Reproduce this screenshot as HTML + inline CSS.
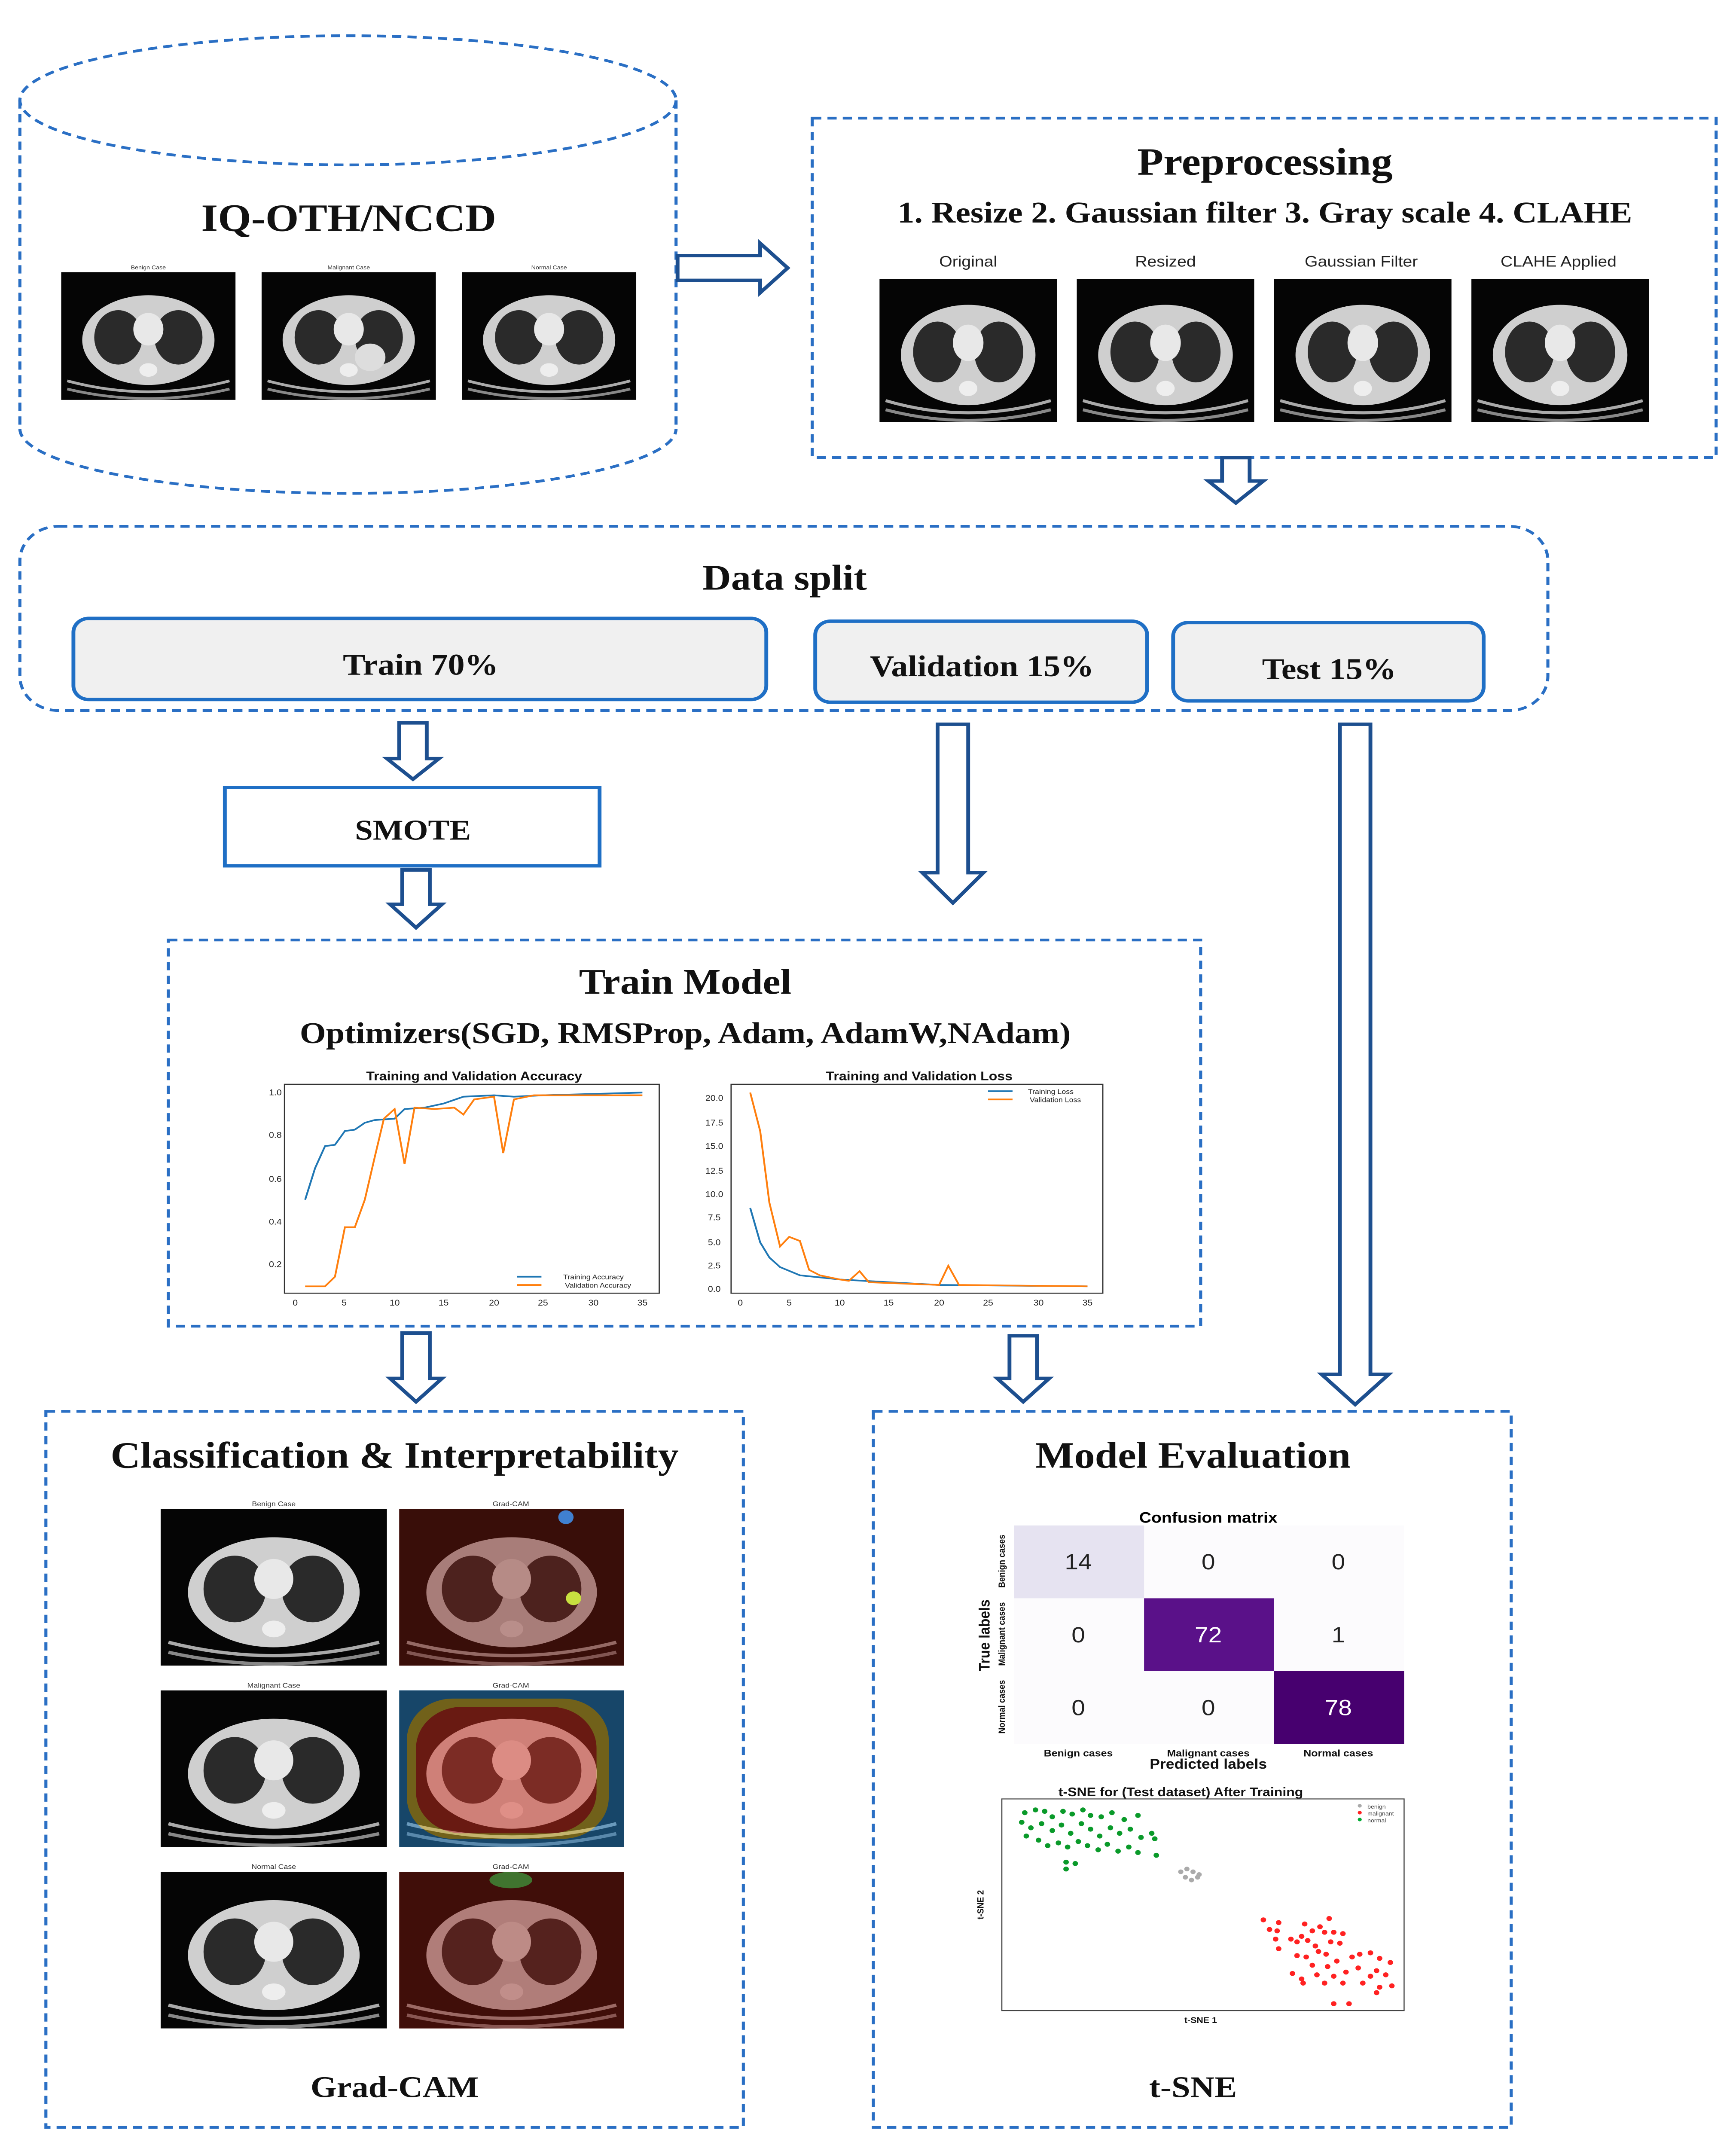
<!DOCTYPE html>
<html><head><meta charset="utf-8"><style>html,body{margin:0;padding:0;background:#fff;width:100vw;height:100vh;overflow:hidden}svg{display:block;position:fixed;left:0;top:0;width:100vw;height:100vh}</style></head>
<body>
<svg viewBox="0 0 1135 1563" preserveAspectRatio="none" xmlns="http://www.w3.org/2000/svg">
<defs>
<symbol id="ct" viewBox="0 0 116 94" preserveAspectRatio="none">
<rect width="116" height="94" fill="#050505"/>
<ellipse cx="58" cy="50" rx="44" ry="33" fill="#cfcfcf"/>
<ellipse cx="38" cy="48" rx="16" ry="20" fill="#2a2a2a"/>
<ellipse cx="78" cy="48" rx="16" ry="20" fill="#2a2a2a"/>
<ellipse cx="58" cy="42" rx="10" ry="12" fill="#e8e8e8"/>
<ellipse cx="58" cy="72" rx="6" ry="5" fill="#eee"/>
<path d="M4 80 Q58 96 112 80" stroke="#aaa" stroke-width="2" fill="none"/>
<path d="M4 86 Q58 100 112 86" stroke="#888" stroke-width="2" fill="none"/>
</symbol>
</defs>
<g fill="none" stroke="#2a6fc4" stroke-width="2" stroke-dasharray="6,4">
<path d="M13 73 L13 312 M442 73 L442 312"/>
<ellipse cx="227.5" cy="73" rx="214.5" ry="47"/>
<path d="M13 312 A214.5 47 0 0 0 442 312"/>
<rect x="531" y="86" width="591" height="247"/>
<rect x="13" y="383" width="999" height="134" rx="25"/>
<rect x="110" y="684" width="675" height="281"/>
<rect x="30" y="1027" width="456" height="521"/>
<rect x="571" y="1027" width="417" height="521"/>
</g>
<g font-family="Liberation Serif, serif" font-weight="bold" fill="#111" text-anchor="middle">
<text x="228" y="168" font-size="28">IQ-OTH/NCCD</text>
<text x="827" y="127" font-size="28">Preprocessing</text>
<text x="827" y="162" font-size="22">1. Resize 2. Gaussian filter 3. Gray scale 4. CLAHE</text>
<text x="513" y="429" font-size="26">Data split</text>
<text x="448" y="723" font-size="26">Train Model</text>
<text x="448" y="759" font-size="22">Optimizers(SGD, RMSProp, Adam, AdamW,NAdam)</text>
<text x="258" y="1068" font-size="27">Classification &amp; Interpretability</text>
<text x="780" y="1068" font-size="27">Model Evaluation</text>
<text x="258" y="1526" font-size="22">Grad-CAM</text>
<text x="780" y="1526" font-size="22">t-SNE</text>
</g>
<g font-family="Liberation Sans, sans-serif" font-size="4" fill="#333" text-anchor="middle">
<text x="97" y="196">Benign Case</text><text x="228" y="196">Malignant Case</text><text x="359" y="196">Normal Case</text>
</g>
<use href="#ct" x="40" y="198" width="114" height="93"/>
<use href="#ct" x="171" y="198" width="114" height="93"/>
<use href="#ct" x="302" y="198" width="114" height="93"/>
<circle cx="242" cy="260" r="10" fill="#ddd"/>
<g font-family="Liberation Sans, sans-serif" font-size="11" fill="#222" text-anchor="middle">
<text x="633" y="194">Original</text><text x="762" y="194">Resized</text><text x="890" y="194">Gaussian Filter</text><text x="1019" y="194">CLAHE Applied</text>
</g>
<use href="#ct" x="575" y="203" width="116" height="104"/>
<use href="#ct" x="704" y="203" width="116" height="104"/>
<use href="#ct" x="833" y="203" width="116" height="104"/>
<use href="#ct" x="962" y="203" width="116" height="104"/>
<g stroke="#1f6fc5" stroke-width="2.5">
<rect x="48" y="450" width="453" height="59" rx="10" fill="#f0f0f0"/>
<rect x="533" y="452" width="217" height="59" rx="10" fill="#f0f0f0"/>
<rect x="767" y="453" width="203" height="57" rx="10" fill="#f0f0f0"/>
<rect x="147" y="573" width="245" height="57" fill="#fff"/>
</g>
<g font-family="Liberation Serif, serif" font-weight="bold" fill="#111" text-anchor="middle" font-size="22">
<text x="275" y="491">Train 70%</text><text x="642" y="492">Validation 15%</text><text x="869" y="494">Test 15%</text>
<text x="270" y="611" font-size="21">SMOTE</text>
</g>
<g fill="#fff" stroke="#1d4f8f" stroke-width="2.5" stroke-linejoin="miter">
<polygon points="443,186 497,186 497,177 515,195 497,213 497,204 443,204"/>
<polygon points="799,333 817,333 817,350 826,350 808,366 790,350 799,350"/>
<polygon points="261,526 279,526 279,552 287,552 270,567 253,552 261,552"/>
<polygon points="263,633 281,633 281,658 289,658 272,675 255,658 263,658"/>
<polygon points="613,527 633,527 633,635 643,635 623,657 603,635 613,635"/>
<polygon points="876,527 896,527 896,1000 908,1000 886,1022 864,1000 876,1000"/>
<polygon points="263,970 281,970 281,1003 289,1003 272,1020 255,1003 263,1003"/>
<polygon points="660,972 678,972 678,1003 686,1003 669,1020 652,1003 660,1003"/>
</g>
<g font-family="Liberation Sans, sans-serif" font-weight="bold" font-size="9" fill="#111" text-anchor="middle">
<text x="310" y="786">Training and Validation Accuracy</text>
<text x="601" y="786">Training and Validation Loss</text>
</g>
<rect x="186" y="789" width="245" height="152" fill="none" stroke="#333" stroke-width="0.8"/>
<rect x="478" y="789" width="243" height="152" fill="none" stroke="#333" stroke-width="0.8"/>
<g font-family="Liberation Sans, sans-serif" font-size="6" fill="#222" text-anchor="middle">
<text x="180" y="797">1.0</text><text x="180" y="828">0.8</text><text x="180" y="860">0.6</text><text x="180" y="891">0.4</text><text x="180" y="922">0.2</text>
<text x="193" y="950">0</text><text x="225" y="950">5</text><text x="258" y="950">10</text><text x="290" y="950">15</text><text x="323" y="950">20</text><text x="355" y="950">25</text><text x="388" y="950">30</text><text x="420" y="950">35</text>
<text x="467" y="801">20.0</text><text x="467" y="819">17.5</text><text x="467" y="836">15.0</text><text x="467" y="854">12.5</text><text x="467" y="871">10.0</text><text x="467" y="888">7.5</text><text x="467" y="906">5.0</text><text x="467" y="923">2.5</text><text x="467" y="940">0.0</text>
<text x="484" y="950">0</text><text x="516" y="950">5</text><text x="549" y="950">10</text><text x="581" y="950">15</text><text x="614" y="950">20</text><text x="646" y="950">25</text><text x="679" y="950">30</text><text x="711" y="950">35</text>
<text x="388" y="931" font-size="5">Training Accuracy</text><text x="391" y="937" font-size="5">Validation Accuracy</text>
<text x="687" y="796" font-size="5">Training Loss</text><text x="690" y="802" font-size="5">Validation Loss</text>
</g>
<g fill="none" stroke-width="1.2">
<polyline stroke="#1f77b4" points="199.5,873 206,850 212.5,834 219,833 225.5,823 232,822 238.5,817 245,815 258,814 264.5,807 277.5,806 290,803 303,798 323,797 336,798 355,797 420,795"/>
<polyline stroke="#ff7f0e" points="199.5,936 212.5,936 219,929 225.5,893 232,893 238.5,873 245,842 251,814 258,807 264.5,847 271,806 284,807 297,806 303,811 310,800 323,798 329,839 336,800 349,797 420,797"/>
<polyline stroke="#1f77b4" points="490.5,879 497,904 503,915 510,922 523,928 549,931 581,933 614,935 711,936"/>
<polyline stroke="#ff7f0e" points="490.5,795 497,823 503,875 510,907 516,900 523,903 529,924 536,928 549,931 555,932 562,925 568,933 614,935 620,921 627,935 711,936"/>
<line x1="338" y1="929" x2="354" y2="929" stroke="#1f77b4"/><line x1="338" y1="935" x2="354" y2="935" stroke="#ff7f0e"/>
<line x1="646" y1="794" x2="662" y2="794" stroke="#1f77b4"/><line x1="646" y1="800" x2="662" y2="800" stroke="#ff7f0e"/>
</g>
<g font-family="Liberation Sans, sans-serif" font-size="5" fill="#333" text-anchor="middle">
<text x="179" y="1096">Benign Case</text><text x="334" y="1096">Grad-CAM</text>
<text x="179" y="1228">Malignant Case</text><text x="334" y="1228">Grad-CAM</text>
<text x="179" y="1360">Normal Case</text><text x="334" y="1360">Grad-CAM</text>
</g>
<use href="#ct" x="105" y="1098" width="148" height="114"/>
<use href="#ct" x="105" y="1230" width="148" height="114"/>
<use href="#ct" x="105" y="1362" width="148" height="114"/>
<rect x="261" y="1098" width="147" height="114" fill="#7a1a10"/>
<use href="#ct" x="261" y="1098" width="147" height="114" opacity="0.55"/>
<circle cx="375" cy="1163" r="5" fill="#c8e040"/><circle cx="370" cy="1104" r="5" fill="#4080d0"/>
<rect x="261" y="1230" width="147" height="114" fill="#2a8ad0"/>
<rect x="266" y="1236" width="132" height="102" rx="30" fill="#e0c030"/>
<rect x="272" y="1242" width="118" height="92" rx="30" fill="#d03020"/>
<use href="#ct" x="261" y="1230" width="147" height="114" opacity="0.5"/>
<rect x="261" y="1362" width="147" height="114" fill="#8a1a10"/>
<use href="#ct" x="261" y="1362" width="147" height="114" opacity="0.55"/>
<ellipse cx="334" cy="1368" rx="14" ry="6" fill="#40a040" opacity="0.7"/>
<text x="790" y="1108" font-family="Liberation Sans, sans-serif" font-weight="bold" font-size="11" text-anchor="middle">Confusion matrix</text>
<rect x="663" y="1110" width="255" height="159" fill="#fcfbfd"/>
<rect x="663" y="1110" width="85" height="53" fill="#e6e3f1"/>
<rect x="748" y="1163" width="85" height="53" fill="#5a1189"/>
<rect x="833" y="1216" width="85" height="53" fill="#47006f"/>
<g font-family="Liberation Sans, sans-serif" font-size="16" text-anchor="middle" fill="#222">
<text x="705" y="1142">14</text><text x="790" y="1142">0</text><text x="875" y="1142">0</text>
<text x="705" y="1195">0</text><text x="790" y="1195" fill="#fff">72</text><text x="875" y="1195">1</text>
<text x="705" y="1248">0</text><text x="790" y="1248">0</text><text x="875" y="1248" fill="#fff">78</text>
</g>
<g font-family="Liberation Sans, sans-serif" font-weight="bold" fill="#111" text-anchor="middle">
<text x="705" y="1278" font-size="7">Benign cases</text><text x="790" y="1278" font-size="7">Malignant cases</text><text x="875" y="1278" font-size="7">Normal cases</text>
<text x="790" y="1287" font-size="10">Predicted labels</text>
<text transform="translate(647,1190) rotate(-90)" font-size="10">True labels</text>
<text transform="translate(657,1136) rotate(-90)" font-size="6">Benign cases</text>
<text transform="translate(657,1189) rotate(-90)" font-size="6">Malignant cases</text>
<text transform="translate(657,1242) rotate(-90)" font-size="6">Normal cases</text>
<text x="772" y="1307" font-size="9">t-SNE for (Test dataset) After Training</text>
<text x="785" y="1472" font-size="6">t-SNE 1</text>
<text transform="translate(643,1386) rotate(-90)" font-size="6">t-SNE 2</text>
</g>
<rect x="655" y="1309" width="263" height="154" fill="#fff" stroke="#444" stroke-width="0.7"/>
<g font-family="Liberation Sans, sans-serif" font-size="4" fill="#444">
<text x="894" y="1316">benign</text><text x="894" y="1321">malignant</text><text x="894" y="1326">normal</text>
</g>
<circle cx="889" cy="1314" r="1.3" fill="#aaa"/><circle cx="889" cy="1319" r="1.3" fill="#f22"/><circle cx="889" cy="1324" r="1.3" fill="#0a3"/>
<g fill="#0a9a2a">
<circle cx="670" cy="1319" r="1.8"/><circle cx="677" cy="1317" r="1.8"/><circle cx="683" cy="1318" r="1.8"/><circle cx="688" cy="1322" r="1.8"/><circle cx="695" cy="1318" r="1.8"/><circle cx="701" cy="1320" r="1.8"/><circle cx="708" cy="1317" r="1.8"/><circle cx="713" cy="1321" r="1.8"/><circle cx="720" cy="1322" r="1.8"/><circle cx="727" cy="1319" r="1.8"/><circle cx="735" cy="1324" r="1.8"/><circle cx="744" cy="1321" r="1.8"/>
<circle cx="668" cy="1326" r="1.8"/><circle cx="674" cy="1330" r="1.8"/><circle cx="681" cy="1327" r="1.8"/><circle cx="688" cy="1332" r="1.8"/><circle cx="694" cy="1328" r="1.8"/><circle cx="700" cy="1334" r="1.8"/><circle cx="707" cy="1327" r="1.8"/><circle cx="713" cy="1331" r="1.8"/><circle cx="719" cy="1336" r="1.8"/><circle cx="726" cy="1330" r="1.8"/><circle cx="732" cy="1334" r="1.8"/><circle cx="739" cy="1331" r="1.8"/><circle cx="746" cy="1337" r="1.8"/><circle cx="753" cy="1334" r="1.8"/><circle cx="755" cy="1338" r="1.8"/>
<circle cx="671" cy="1336" r="1.8"/><circle cx="679" cy="1339" r="1.8"/><circle cx="685" cy="1343" r="1.8"/><circle cx="692" cy="1341" r="1.8"/><circle cx="698" cy="1344" r="1.8"/><circle cx="705" cy="1340" r="1.8"/><circle cx="711" cy="1343" r="1.8"/><circle cx="718" cy="1346" r="1.8"/><circle cx="724" cy="1342" r="1.8"/><circle cx="731" cy="1347" r="1.8"/><circle cx="738" cy="1344" r="1.8"/><circle cx="744" cy="1348" r="1.8"/><circle cx="756" cy="1350" r="1.8"/>
<circle cx="697" cy="1355" r="1.8"/><circle cx="697" cy="1360" r="1.8"/><circle cx="703" cy="1356" r="1.8"/>
</g>
<g fill="#aaa"><circle cx="772" cy="1362" r="1.7"/><circle cx="776" cy="1360" r="1.7"/><circle cx="780" cy="1362" r="1.7"/><circle cx="784" cy="1364" r="1.7"/><circle cx="775" cy="1366" r="1.7"/><circle cx="779" cy="1368" r="1.7"/><circle cx="783" cy="1366" r="1.7"/></g>
<g fill="#f22">
<circle cx="826" cy="1397" r="1.8"/><circle cx="836" cy="1399" r="1.8"/><circle cx="853" cy="1400" r="1.8"/><circle cx="863" cy="1402" r="1.8"/><circle cx="869" cy="1396" r="1.8"/>
<circle cx="830" cy="1404" r="1.8"/><circle cx="835" cy="1405" r="1.8"/><circle cx="844" cy="1411" r="1.8"/><circle cx="851" cy="1409" r="1.8"/><circle cx="858" cy="1405" r="1.8"/><circle cx="866" cy="1406" r="1.8"/><circle cx="872" cy="1406" r="1.8"/><circle cx="878" cy="1407" r="1.8"/>
<circle cx="834" cy="1411" r="1.8"/><circle cx="848" cy="1413" r="1.8"/><circle cx="855" cy="1412" r="1.8"/><circle cx="860" cy="1416" r="1.8"/><circle cx="870" cy="1413" r="1.8"/><circle cx="862" cy="1420" r="1.8"/><circle cx="867" cy="1422" r="1.8"/><circle cx="876" cy="1414" r="1.8"/>
<circle cx="836" cy="1418" r="1.8"/><circle cx="848" cy="1423" r="1.8"/><circle cx="854" cy="1424" r="1.8"/><circle cx="858" cy="1430" r="1.8"/><circle cx="868" cy="1431" r="1.8"/><circle cx="874" cy="1427" r="1.8"/><circle cx="884" cy="1424" r="1.8"/><circle cx="889" cy="1422" r="1.8"/><circle cx="896" cy="1421" r="1.8"/><circle cx="902" cy="1425" r="1.8"/><circle cx="909" cy="1428" r="1.8"/>
<circle cx="845" cy="1436" r="1.8"/><circle cx="851" cy="1440" r="1.8"/><circle cx="861" cy="1437" r="1.8"/><circle cx="872" cy="1438" r="1.8"/><circle cx="880" cy="1435" r="1.8"/><circle cx="888" cy="1432" r="1.8"/><circle cx="896" cy="1438" r="1.8"/><circle cx="900" cy="1434" r="1.8"/><circle cx="906" cy="1437" r="1.8"/><circle cx="852" cy="1443" r="1.8"/>
<circle cx="866" cy="1443" r="1.8"/><circle cx="878" cy="1443" r="1.8"/><circle cx="891" cy="1443" r="1.8"/><circle cx="902" cy="1446" r="1.8"/><circle cx="910" cy="1445" r="1.8"/><circle cx="872" cy="1458" r="1.8"/><circle cx="882" cy="1458" r="1.8"/><circle cx="900" cy="1450" r="1.8"/>
</g>
</svg>
</body></html>
